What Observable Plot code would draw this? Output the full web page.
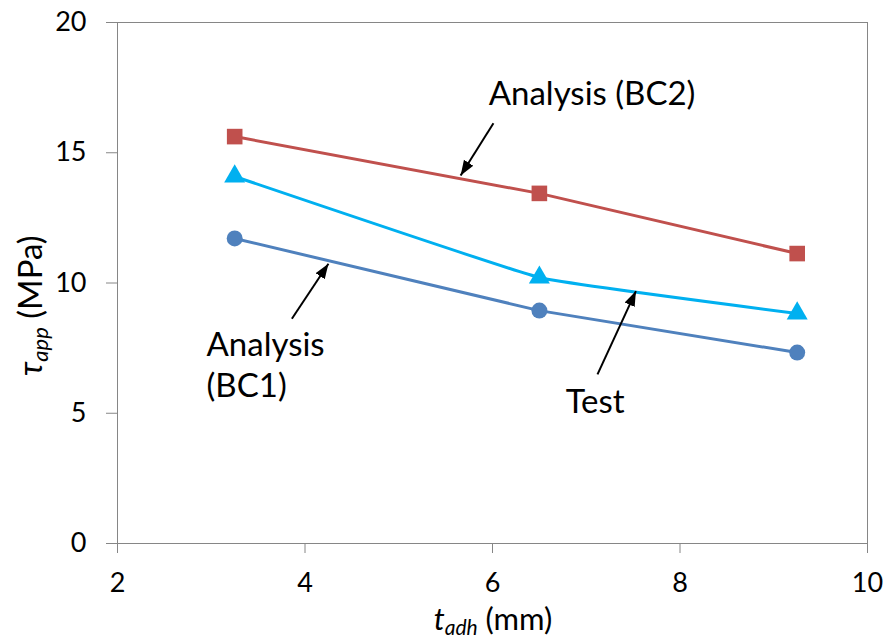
<!DOCTYPE html>
<html>
<head>
<meta charset="utf-8">
<script src="https://cdn.jsdelivr.net/npm/d3@7"></script>
<script src="https://cdn.jsdelivr.net/npm/@observablehq/plot@0.6"></script>
<style>
  html, body { margin: 0; padding: 0; background: #ffffff; }
  #chart svg { display: block; }
</style>
</head>
<body>
<div id="chart"></div>
<script>
// Data
const tAdh = [3.25, 6.5, 9.25];
const analysisBC2 = [15.62, 13.44, 11.13];
const testValues = [14.09, 10.21, 8.83];
const analysisBC1 = [11.71, 8.94, 7.33];

const xTicks = [2, 4, 6, 8, 10];
const yTicks = [0, 5, 10, 15, 20];

// Annotation labels and arrows (data coordinates)
const annText = ["Analysis (BC2)", "Analysis", "(BC1)", "Test"];
const annX = [5.96, 2.95, 2.95, 6.78];
const annY = [17.22, 7.60, 6.03, 5.41];
const arrowX1 = [6.01, 3.86, 7.12];
const arrowY1 = [16.13, 8.63, 6.49];
const arrowX2 = [5.66, 4.25, 7.53];
const arrowY2 = [14.13, 10.74, 9.69];

const mk = (vals) => tAdh.map((x, i) => ({x, y: vals[i]}));
const bc2 = mk(analysisBC2);
const tst = mk(testValues);
const bc1 = mk(analysisBC1);
const ann = annText.map((t, i) => ({t, x: annX[i], y: annY[i]}));
const arrows = arrowX1.map((_, i) => ({x1: arrowX1[i], y1: arrowY1[i], x2: arrowX2[i], y2: arrowY2[i]}));

const RED = "#C0504D", CYAN = "#00B0F0", BLUE = "#4F81BD", GRID = "#868686";
const FONT = "Lato, 'Open Sans', sans-serif";

const plot = Plot.plot({
  width: 886,
  height: 641,
  marginLeft: 117,
  marginRight: 19,
  marginTop: 22,
  marginBottom: 98,
  style: {fontFamily: FONT, fontSize: "27px", background: "#ffffff", color: "#000"},
  x: {domain: [2, 10]},
  y: {domain: [0, 20]},
  marks: [
    Plot.frame({stroke: GRID, strokeWidth: 1}),
    Plot.axisX({ticks: xTicks, tickSize: 10, tickPadding: 19, stroke: GRID, label: null, fontSize: 27}),
    Plot.axisY({ticks: yTicks, tickSize: 11, tickPadding: 20, stroke: GRID, label: null, fontSize: 27}),
    Plot.line(bc2, {x: "x", y: "y", stroke: RED, strokeWidth: 3}),
    Plot.line(tst, {x: "x", y: "y", stroke: CYAN, strokeWidth: 3, curve: "cardinal", tension: 0.75}),
    Plot.line(bc1, {x: "x", y: "y", stroke: BLUE, strokeWidth: 3}),
    Plot.dot(bc2, {x: "x", y: "y", symbol: "square", r: 8.8, fill: RED}),
    Plot.dot(tst, {x: "x", y: "y", symbol: "triangle", r: 7.8, fill: CYAN}),
    Plot.dot(bc1, {x: "x", y: "y", symbol: "circle", r: 8, fill: BLUE}),
    Plot.link(arrows, {x1: "x1", y1: "y1", x2: "x2", y2: "y2", stroke: "#000", strokeWidth: 2}),
    Plot.text(ann, {x: "x", y: "y", text: "t", textAnchor: "start", lineAnchor: "middle", fontSize: 33, fill: "#000"})
  ]
});

document.getElementById("chart").appendChild(plot);

// Filled arrow heads on the annotation links
const svg = d3.select(plot);
const defs = svg.insert("defs", ":first-child");
defs.append("marker")
  .attr("id", "ahead")
  .attr("markerUnits", "userSpaceOnUse")
  .attr("markerWidth", 16).attr("markerHeight", 14)
  .attr("viewBox", "0 -7 16 14")
  .attr("refX", 15).attr("refY", 0)
  .attr("orient", "auto")
  .append("path").attr("d", "M0,-5.5L15,0L0,5.5Z").attr("fill", "#000");
svg.selectAll('g[aria-label="link"] path').attr("marker-end", "url(#ahead)");

// Axis titles with italic subscripts
const ylab = svg.append("text")
  .attr("transform", "translate(42,376) rotate(-90)")
  .attr("text-anchor", "start")
  .attr("font-family", FONT)
  .attr("font-size", 33)
  .attr("fill", "#000");
ylab.append("tspan").attr("font-style", "italic").text("τ");
ylab.append("tspan").attr("font-style", "italic").attr("font-size", 22).attr("dy", 6).text("app");
ylab.append("tspan").attr("dy", -6).text(" (MPa)");

const xlab = svg.append("text")
  .attr("x", 493).attr("y", 630)
  .attr("text-anchor", "middle")
  .attr("font-family", FONT)
  .attr("font-size", 31)
  .attr("fill", "#000");
xlab.append("tspan").attr("font-style", "italic").text("t");
xlab.append("tspan").attr("font-style", "italic").attr("font-size", 21).attr("dy", 5).text("adh");
xlab.append("tspan").attr("dy", -5).text(" (mm)");
</script>
</body>
</html>
